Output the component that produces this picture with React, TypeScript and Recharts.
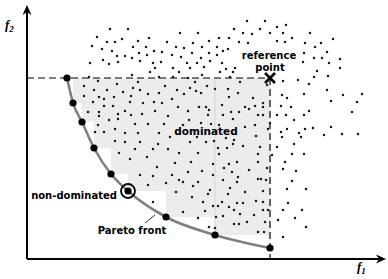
import {
  ComposedChart,
  XAxis,
  YAxis,
  Scatter,
  Line,
  ReferenceArea,
  ReferenceLine,
  ReferenceDot,
} from "recharts";

// f1 / f2 in plot units (origin = axes corner)
const frontF1 = [40, 46, 55, 67, 84, 101, 139, 188, 243];
const frontF2 = [181, 156, 137, 111, 85, 68, 42, 24, 11];
const refF1 = 243;
const refF2 = 181;
const highlightIndex = 5;

const cloudUpperLeft = [
  [83, 230], [101, 230], [70, 222], [80, 217], [88, 217], [95, 220], [65, 213], [75, 210],
  [85, 208], [63, 196], [90, 203], [98, 203], [76, 199], [82, 195], [91, 197],
];
const cloudUpperMid = [
  [220, 238], [207, 230], [216, 226], [225, 225], [153, 226], [171, 226], [122, 221], [192, 221],
  [202, 221], [111, 218], [140, 217], [166, 216], [182, 218], [212, 217], [221, 216], [106, 212],
  [119, 212], [149, 212], [157, 211], [175, 212], [190, 212], [201, 210], [127, 208], [135, 207],
  [196, 208], [112, 206], [120, 204], [145, 204], [165, 206], [182, 206], [190, 204], [105, 201],
  [154, 202], [174, 201], [113, 198], [126, 196], [134, 197], [160, 196], [170, 196], [183, 198],
  [195, 196], [128, 191], [146, 191], [163, 191], [177, 192], [199, 190], [208, 191], [123, 187],
  [152, 187], [193, 187], [206, 187], [105, 184], [175, 184], [203, 182], [132, 182], [146, 182],
  [161, 181],
];
const cloudUpperRight = [
  [238, 238], [250, 232], [259, 234], [233, 230], [243, 226], [256, 226], [265, 221], [250, 218],
  [258, 217], [283, 226], [278, 216], [294, 216], [306, 220], [288, 212], [300, 207], [277, 206],
  [287, 201], [295, 201], [313, 200], [276, 197], [302, 196], [313, 191], [290, 188], [301, 183],
  [287, 182], [271, 179], [256, 178], [282, 175], [240, 174], [300, 169], [255, 164], [260, 161],
  [277, 165], [316, 164], [335, 165],
];
const cloudShadedTop = [
  [111, 177], [168, 177], [213, 177], [106, 171], [113, 169], [138, 173], [180, 173], [188, 170],
  [201, 170], [150, 169], [163, 171], [169, 168], [174, 166], [157, 165], [121, 165], [132, 166],
  [211, 166], [104, 163], [145, 160], [202, 162], [226, 161], [62, 182], [71, 178], [57, 173],
  [67, 169], [57, 163], [72, 162], [66, 157], [80, 169], [77, 160], [87, 162], [96, 167], [90, 175],
];
const cloudShadedLeft = [
  [77, 153], [86, 153], [98, 148], [91, 145], [72, 143], [82, 139], [91, 140], [71, 134],
  [68, 127], [77, 127], [88, 130], [98, 126], [88, 118], [98, 117], [92, 106], [61, 147], [72, 147],
];
const cloudShadedMid = [
  [116, 156], [127, 157], [135, 156], [103, 157], [151, 152], [172, 152], [179, 152], [195, 154],
  [218, 152], [228, 153], [128, 148], [161, 148], [182, 149], [204, 147], [212, 147], [222, 150],
  [104, 144], [115, 145], [141, 143], [181, 144], [196, 144], [231, 144], [162, 139], [206, 140],
  [108, 135], [121, 135], [137, 135], [156, 134], [174, 136], [184, 135], [192, 134], [218, 132],
  [228, 134], [111, 126], [132, 126], [229, 123], [143, 122], [170, 122], [199, 121], [207, 119],
  [113, 117], [131, 115], [163, 117], [179, 117], [187, 118], [206, 115], [216, 113], [108, 110],
  [126, 110], [141, 110], [191, 111], [200, 111], [152, 106], [171, 106], [192, 105], [120, 102],
  [103, 100], [231, 105], [148, 96], [164, 97], [186, 95], [202, 95], [210, 97], [130, 92],
  [231, 97], [197, 91], [205, 87], [222, 89], [161, 87], [175, 88], [113, 84], [126, 83],
  [145, 84], [186, 84], [211, 82], [196, 79], [152, 79], [156, 77], [171, 77], [139, 76],
  [231, 80], [121, 74], [166, 73], [183, 69], [203, 71], [210, 77], [218, 67], [149, 67],
  [165, 62], [181, 65], [201, 65],
];
const cloudLower = [
  [229, 58], [126, 57], [176, 57], [195, 57], [210, 56], [216, 56], [186, 53], [191, 53],
  [202, 52], [207, 49], [156, 47], [178, 48], [213, 45], [227, 44], [196, 43], [171, 41],
  [189, 42], [220, 37], [207, 35], [212, 35], [182, 32], [188, 31], [231, 27],
];
const cloudRight = [
  [304, 158], [330, 157], [254, 153], [264, 152], [282, 148], [325, 147], [236, 156], [236, 152],
  [236, 144], [250, 144], [259, 144], [277, 144], [267, 139], [243, 136], [241, 130], [260, 130],
  [278, 130], [286, 131], [304, 132], [254, 127], [272, 126], [297, 124], [315, 125], [331, 125],
  [255, 122], [274, 122], [267, 115], [250, 112], [233, 112], [245, 104], [265, 105], [277, 105],
  [258, 97], [240, 91], [256, 90], [269, 88], [234, 80], [239, 79], [265, 78], [260, 70],
  [279, 70], [236, 68], [261, 56], [236, 57], [236, 49], [241, 49], [256, 49], [275, 49],
  [251, 39], [268, 41], [238, 37], [279, 32], [237, 27], [256, 22],
];

const cloud = [
  ...cloudUpperLeft, ...cloudUpperMid, ...cloudUpperRight, ...cloudShadedTop,
  ...cloudShadedLeft, ...cloudShadedMid, ...cloudLower, ...cloudRight,
].map(([f1, f2]) => ({ f1, f2 }));

const front = frontF1.map((f1, i) => ({ f1, f2: frontF2[i] }));

const FONT = "'DejaVu Sans', Verdana, sans-serif";

const Dot = (p: any) => <circle cx={p.cx} cy={p.cy} r={1.25} fill="#1a1a1a" />;
const BigDot = (p: any) => <circle cx={p.cx} cy={p.cy} r={3.6} fill="#000" />;

const textAt = (label: string, size = 10) => (p: any) => (
  <text
    x={p.cx}
    y={p.cy}
    textAnchor="middle"
    dominantBaseline="central"
    fontFamily={FONT}
    fontWeight="bold"
    fontSize={size}
    fill="#000"
  >
    {label}
  </text>
);

const axisLabel = (sub: string) => (p: any) => (
  <text
    x={p.cx}
    y={p.cy}
    fontFamily="'Liberation Serif', serif"
    fontStyle="italic"
    fontWeight="bold"
    fontSize={13}
    fill="#000"
  >
    f
    <tspan fontSize={9} dy={3}>
      {sub}
    </tspan>
  </text>
);

export default function App() {
  return (
    <div style={{ position: "absolute", left: 0, top: 0, background: "#fff" }}>
      <ComposedChart width={388} height={279} margin={{ top: 0, right: 0, bottom: 0, left: 0 }}>
        <XAxis type="number" dataKey="f1" domain={[-27, 361]} hide allowDataOverflow />
        <YAxis type="number" dataKey="f2" domain={[-20, 259]} hide allowDataOverflow />

        {front.slice(1).map((pt, i) => (
          <ReferenceArea
            key={`band-${i}`}
            x1={pt.f1}
            x2={refF1}
            y1={pt.f2}
            y2={front[i].f2}
            fill="#ececec"
            fillOpacity={1}
            stroke="none"
          />
        ))}
        <ReferenceLine
          segment={[{ x: frontF1[7], y: frontF2[7] }, { x: frontF1[7], y: refF2 }]}
          stroke="#d6d6d6"
          strokeWidth={1}
        />

        <ReferenceLine
          segment={[{ x: 0, y: refF2 }, { x: refF1, y: refF2 }]}
          stroke="#000"
          strokeWidth={1.2}
          strokeDasharray="7 4"
        />
        <ReferenceLine
          segment={[{ x: refF1, y: refF2 }, { x: refF1, y: 0 }]}
          stroke="#000"
          strokeWidth={1.2}
          strokeDasharray="7 4"
        />

        <Scatter data={cloud} dataKey="f2" shape={Dot} isAnimationActive={false} />

        <Line
          data={front}
          dataKey="f2"
          type="monotone"
          stroke="#808080"
          strokeWidth={2.6}
          dot={false}
          activeDot={false}
          isAnimationActive={false}
        />
        <Scatter data={front} dataKey="f2" shape={BigDot} isAnimationActive={false} />

        <ReferenceDot
          x={frontF1[highlightIndex]}
          y={frontF2[highlightIndex]}
          r={7}
          fill="none"
          stroke="#000"
          strokeWidth={1.8}
        />

        <ReferenceDot
          x={refF1}
          y={refF2}
          shape={(p: any) => (
            <g stroke="#000" strokeWidth={2.6}>
              <line x1={p.cx - 5} y1={p.cy - 5} x2={p.cx + 5} y2={p.cy + 5} />
              <line x1={p.cx - 5} y1={p.cy + 5} x2={p.cx + 5} y2={p.cy - 5} />
            </g>
          )}
        />

        {/* axes */}
        <ReferenceLine segment={[{ x: 0, y: 0 }, { x: 0, y: 252 }]} stroke="#000" strokeWidth={2} />
        <ReferenceLine segment={[{ x: 0, y: 0 }, { x: 357, y: 0 }]} stroke="#000" strokeWidth={2} />
        <ReferenceDot
          x={0}
          y={254}
          shape={(p: any) => (
            <polygon
              points={`${p.cx},${p.cy} ${p.cx + 4.5},${p.cy + 10} ${p.cx},${p.cy + 7} ${p.cx - 4.5},${p.cy + 10}`}
              fill="#000"
            />
          )}
        />
        <ReferenceDot
          x={359}
          y={0}
          shape={(p: any) => (
            <polygon
              points={`${p.cx},${p.cy} ${p.cx - 10},${p.cy - 4.5} ${p.cx - 7},${p.cy} ${p.cx - 10},${p.cy + 4.5}`}
              fill="#000"
            />
          )}
        />

        <ReferenceLine
          segment={[{ x: 118, y: 36 }, { x: 128, y: 44 }]}
          stroke="#000"
          strokeWidth={0.8}
        />

        <ReferenceDot x={179} y={128} shape={textAt("dominated", 10.5)} />
        <ReferenceDot x={47} y={64} shape={textAt("non-dominated")} />
        <ReferenceDot x={105} y={29} shape={textAt("Pareto front")} />
        <ReferenceDot x={242} y={204} shape={textAt("reference")} />
        <ReferenceDot x={243} y={192} shape={textAt("point")} />
        <ReferenceDot x={-22} y={230} shape={axisLabel("2")} />
        <ReferenceDot x={330} y={-12} shape={axisLabel("1")} />
      </ComposedChart>
    </div>
  );
}
